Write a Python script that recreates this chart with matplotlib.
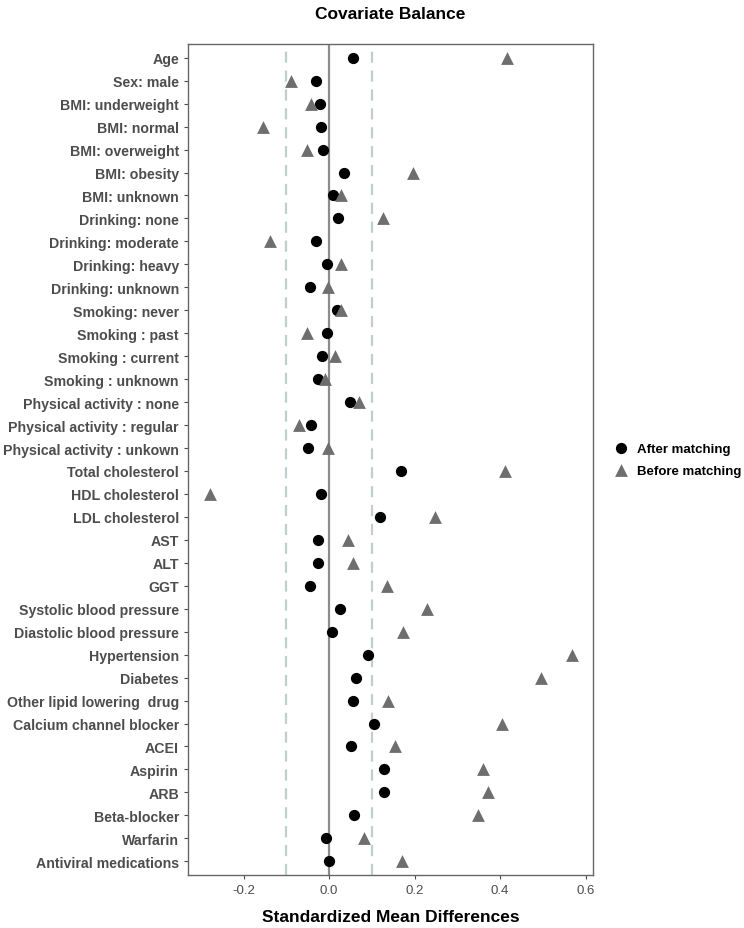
import numpy as np
import matplotlib.pyplot as plt

plt.rcParams['font.family'] = ['Liberation Sans', 'DejaVu Sans']

# covariates, top to bottom
covariates = [
    "Age", "Sex: male", "BMI: underweight", "BMI: normal", "BMI: overweight",
    "BMI: obesity", "BMI: unknown", "Drinking: none", "Drinking: moderate",
    "Drinking: heavy", "Drinking: unknown", "Smoking: never", "Smoking : past",
    "Smoking : current", "Smoking : unknown", "Physical activity : none",
    "Physical activity : regular", "Physical activity : unkown",
    "Total cholesterol", "HDL cholesterol", "LDL cholesterol", "AST", "ALT",
    "GGT", "Systolic blood pressure", "Diastolic blood pressure",
    "Hypertension", "Diabetes", "Other lipid lowering  drug",
    "Calcium channel blocker", "ACEI", "Aspirin", "ARB", "Beta-blocker",
    "Warfarin", "Antiviral medications",
]

after = [
    0.055, -0.030, -0.021, -0.018, -0.015, 0.034, 0.008, 0.021, -0.030,
    -0.005, -0.044, 0.019, -0.006, -0.016, -0.025, 0.048, -0.042, -0.049,
    0.167, -0.020, 0.118, -0.026, -0.026, -0.044, 0.026, 0.006, 0.092,
    0.064, 0.056, 0.105, 0.051, 0.128, 0.128, 0.059, -0.007, 0.000,
]

before = [
    0.416, -0.088, -0.042, -0.155, -0.052, 0.196, 0.027, 0.127, -0.139,
    0.027, -0.002, 0.028, -0.051, 0.014, -0.009, 0.071, -0.071, -0.003,
    0.412, -0.278, 0.248, 0.044, 0.056, 0.136, 0.230, 0.173, 0.567,
    0.495, 0.137, 0.404, 0.155, 0.360, 0.372, 0.349, 0.082, 0.171,
]

xticks = [-0.2, 0.0, 0.2, 0.4, 0.6]

fig = plt.figure(figsize=(7.44, 9.29), dpi=100)
ax = fig.add_axes([0.2527, 0.057, 0.5443, 0.8946])

y = np.arange(len(covariates))

# reference lines
ax.axvline(0, color='#8c8c8c', lw=1.6, zorder=1)
for v in (-0.1, 0.1):
    ax.axvline(v, color='#bfcfcf', lw=1.6, ls=(0, (5, 3.5)), zorder=1)

ax.scatter(after, y, marker='o', s=50, color='black', zorder=3,
           label='After matching')
ax.scatter(before, y, marker='^', s=85, color='#6e6e6e', zorder=4,
           label='Before matching', linewidths=0)

ax.set_ylim(len(covariates) - 0.4, -0.6)
ax.set_xlim(-0.33, 0.617)
ax.set_yticks(y)
ax.set_yticklabels(covariates, fontsize=10.2, fontweight='bold', color='#4d4d4d')
ax.set_xticks(xticks)
ax.set_xticklabels([f"{t:.1f}" for t in xticks], fontsize=9.5, color='#4d4d4d')
ax.tick_params(axis='both', length=3, width=0.8, color='#4d4d4d')

for s in ax.spines.values():
    s.set_color('#666666')
    s.set_linewidth(1.0)

ax.set_title('Covariate Balance', fontsize=12.5, fontweight='bold', pad=19)
ax.set_xlabel('Standardized Mean Differences', fontsize=12.5, fontweight='bold',
              labelpad=9)

leg = ax.legend(loc='center left', bbox_to_anchor=(1.02, 0.5), frameon=False,
                handletextpad=0.6, labelspacing=0.75, handlelength=1.2,
                prop={'weight': 'bold', 'size': 9.5})

plt.savefig('out.png', dpi=100)
plt.close()
